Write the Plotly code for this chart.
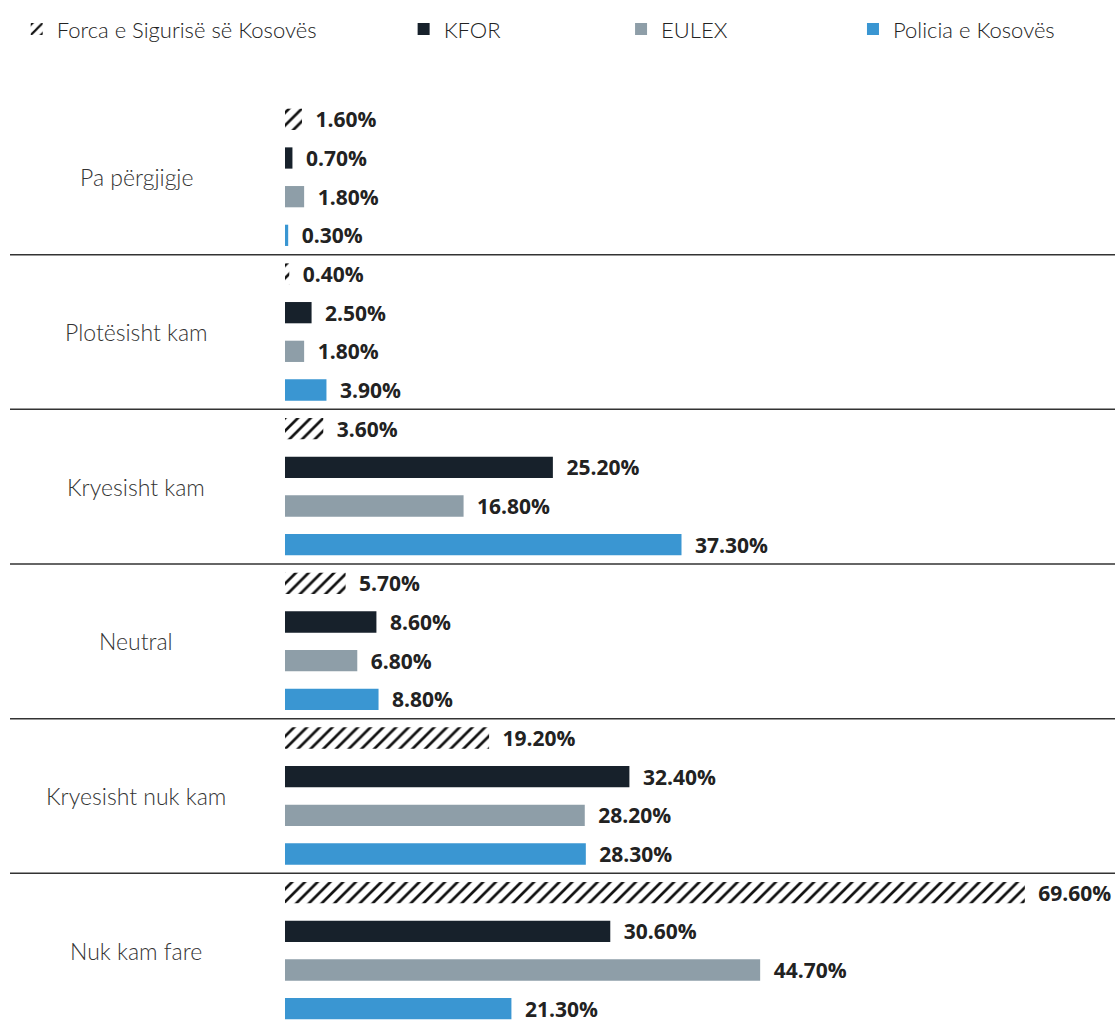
import plotly.graph_objects as go

# Kategoritë (nga lart poshtë)
categories = ["Pa përgjigje", "Plotësisht kam", "Kryesisht kam", "Neutral",
              "Kryesisht nuk kam", "Nuk kam fare"]

series_names = ["Forca e Sigurisë së Kosovës", "KFOR", "EULEX", "Policia e Kosovës"]

fsk = [1.6, 0.4, 3.6, 5.7, 19.2, 69.6]
kfor = [0.7, 2.5, 25.2, 8.6, 32.4, 30.6]
eulex = [1.8, 1.8, 16.8, 6.8, 28.2, 44.7]
policia = [0.3, 3.9, 37.3, 8.8, 28.3, 21.3]

values = [fsk, kfor, eulex, policia]
colors = ["#ffffff", "#17212b", "#8e9ea8", "#3a96d2"]
legend_ids = ["legend", "legend2", "legend3", "legend4"]
legend_x = [0.015, 0.362, 0.557, 0.765]

W, H = 1115, 1028
ML = 285

fig = go.Figure()
for name, vals, col, lg in zip(series_names, values, colors, legend_ids):
    marker = dict(color=col, line=dict(width=0))
    if lg == "legend":
        # vija diagonale për FSK
        marker["pattern"] = dict(shape="/", fgcolor="#111111", bgcolor="#ffffff",
                                 size=9, solidity=0.3, fgopacity=1)
    fig.add_trace(go.Bar(
        y=categories, x=vals, name=name, orientation="h",
        marker=marker, legend=lg,
        texttemplate="\u2002%{x:.2f}%", textposition="outside",
        constraintext="none",
        textfont=dict(family="Open Sans", size=21, color="#222222", weight="bold"),
        cliponaxis=False,
    ))

# Etiketat e kategorive, të qendërzuara
for c in categories:
    fig.add_annotation(x=-(ML - 136) / (W - ML), xref="paper", y=c, yref="y",
                       text=c, showarrow=False, xanchor="center",
                       font=dict(family="Lato", size=23, color="#333333", weight=300))

# Vijat ndarëse ndërmjet kategorive
for i in range(len(categories) - 1):
    fig.add_shape(type="line", xref="paper", yref="y",
                  x0=-(ML - 10) / (W - ML), x1=1, y0=i + 0.5, y1=i + 0.5,
                  line=dict(color="#333333", width=1.5))

legend_layout = {}
for lg, lx in zip(legend_ids, legend_x):
    legend_layout[lg] = dict(x=lx, y=0.992, xref="container", yref="container",
                             xanchor="left", yanchor="top", orientation="h",
                             font=dict(family="Lato", size=22, color="#222222", weight=300),
                             bgcolor="rgba(0,0,0,0)", itemwidth=30)

fig.update_layout(
    width=W, height=H,
    margin=dict(l=ML, r=0, t=100, b=0, autoexpand=False),
    paper_bgcolor="white", plot_bgcolor="white",
    barmode="group", bargap=0.0, bargroupgap=0.45,
    showlegend=True,
    xaxis=dict(range=[0, (W - ML) / 10.63], visible=False),
    yaxis=dict(autorange="reversed", showticklabels=False, showgrid=False,
               zeroline=False, showline=False, ticks=""),
    **legend_layout,
)

fig.write_html("out.html", config={"displayModeBar": False},
               post_script="document.body.style.margin='0';")
